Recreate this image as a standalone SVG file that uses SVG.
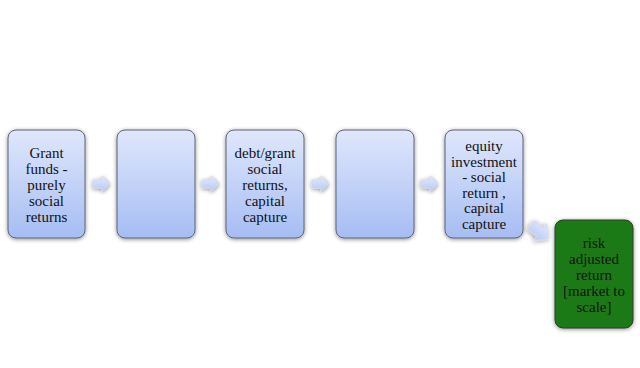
<svg xmlns="http://www.w3.org/2000/svg" width="640" height="368" viewBox="0 0 640 368">
<defs>
<linearGradient id="gb" x1="0" y1="0" x2="0" y2="1">
<stop offset="0" stop-color="#dfe7fc"/>
<stop offset="1" stop-color="#a6bdf3"/>
</linearGradient>
<linearGradient id="ga" x1="0" y1="0" x2="0" y2="1">
<stop offset="0" stop-color="#e4ebfc"/>
<stop offset="1" stop-color="#b3c6f4"/>
</linearGradient>
<filter id="sh" x="-20%" y="-20%" width="140%" height="140%">
<feGaussianBlur in="SourceAlpha" stdDeviation="2"/>
<feOffset dx="0" dy="1" result="b"/>
<feComponentTransfer><feFuncA type="linear" slope="0.45"/></feComponentTransfer>
<feMerge><feMergeNode/><feMergeNode in="SourceGraphic"/></feMerge>
</filter>
<path id="arr" d="M0,-4 L9,-4 L9,-8 L17,0 L9,8 L9,4 L0,4 Z"/>
</defs>
<style>
.box{fill:url(#gb);stroke:#5a6478;stroke-width:1;filter:url(#sh)}
.green{fill:#1e7a16;stroke:#2d3a2a;stroke-width:1;filter:url(#sh)}
.a{fill:url(#ga);stroke:#d0d9ee;stroke-width:0.8;filter:url(#sh)}
.t{font-family:'Liberation Serif','DejaVu Serif',serif;font-size:15px;fill:#111;text-anchor:middle}
</style>
<rect width="640" height="368" fill="#ffffff"/>
<g id="connectors">
<use href="#arr" class="a" transform="translate(93,184)"/>
<use href="#arr" class="a" transform="translate(202,184)"/>
<use href="#arr" class="a" transform="translate(312,184)"/>
<use href="#arr" class="a" transform="translate(421,184)"/>
<use href="#arr" class="a" transform="translate(531,225) rotate(38) scale(1.3)"/>
</g>
<g id="n1">
<rect class="box" x="8" y="130" width="77" height="108" rx="8"/>
<text class="t" x="46.5" y="158">Grant</text>
<text class="t" x="46.5" y="174">funds -</text>
<text class="t" x="46.5" y="190">purely</text>
<text class="t" x="46.5" y="206">social</text>
<text class="t" x="46.5" y="222">returns</text>
</g>
<g id="n2">
<rect class="box" x="117" y="130" width="78" height="108" rx="8"/>
</g>
<g id="n3">
<rect class="box" x="226" y="130" width="78" height="108" rx="8"/>
<text class="t" x="265" y="158">debt/grant</text>
<text class="t" x="265" y="174">social</text>
<text class="t" x="265" y="190">returns,</text>
<text class="t" x="265" y="206">capital</text>
<text class="t" x="265" y="222">capture</text>
</g>
<g id="n4">
<rect class="box" x="336" y="130" width="78" height="108" rx="8"/>
</g>
<g id="n5">
<rect class="box" x="445" y="130" width="78" height="108" rx="8"/>
<text class="t" x="484" y="151">equity</text>
<text class="t" x="484" y="166.5">investment</text>
<text class="t" x="484" y="182">- social</text>
<text class="t" x="484" y="197.5">return ,</text>
<text class="t" x="484" y="213">capital</text>
<text class="t" x="484" y="228.5">capture</text>
</g>
<g id="n6">
<rect class="green" x="555" y="220" width="78" height="108" rx="8"/>
<text class="t" x="594" y="248">risk</text>
<text class="t" x="594" y="264">adjusted</text>
<text class="t" x="594" y="280">return</text>
<text class="t" x="594" y="296">[market to</text>
<text class="t" x="594" y="312">scale]</text>
</g>
</svg>
